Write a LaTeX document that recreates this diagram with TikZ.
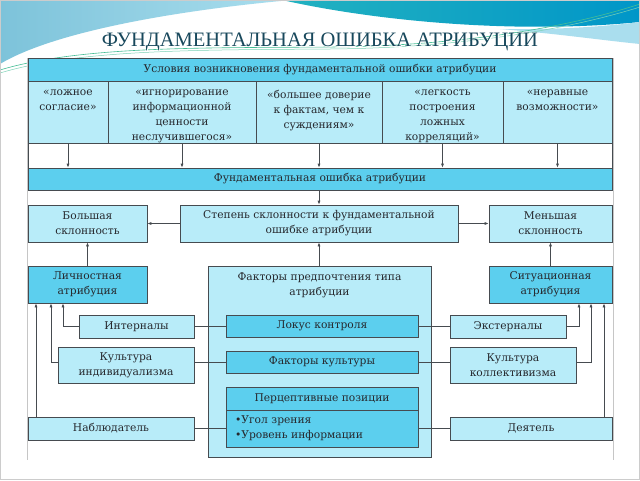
\documentclass[tikz,border=0pt]{standalone}
\usepackage{fontspec}
\setmainfont{DejaVu Serif}
\newfontfamily\titlefont{Liberation Serif}
\usetikzlibrary{arrows.meta}
\definecolor{lightc}{RGB}{184,236,249}
\definecolor{darkc}{RGB}{92,207,238}
\definecolor{linec}{RGB}{70,75,80}
\definecolor{textc}{RGB}{38,40,45}
\definecolor{titlec}{RGB}{24,72,92}
\definecolor{skyA}{RGB}{125,195,218}
\definecolor{skyB}{RGB}{170,222,238}
\definecolor{tealA}{RGB}{35,178,192}
\definecolor{tealB}{RGB}{0,150,200}
\definecolor{greenl}{RGB}{70,190,150}
\tikzset{
  bodyfont/.style={font=\fontsize{10.7}{15}\selectfont},
  lbox/.style={draw=linec, fill=lightc, line width=0.7pt, inner sep=0pt, align=center, bodyfont, text=textc},
  dbox/.style={lbox, fill=darkc},
  txt/.style={inner sep=0pt, align=center, bodyfont, text=textc},
  conn/.style={draw=linec, line width=0.7pt},
  arr/.style={conn, -{Latex[length=4pt,width=3pt]}},
}
\begin{document}
\begin{tikzpicture}[x=1pt,y=-1pt]
\useasboundingbox (0,0) rectangle (640,480);
\fill[white] (0,0) rectangle (640,480);
% background swooshes
\shade[left color=skyA, right color=skyB] (0,0) -- (292,0) .. controls (200,8) and (60,28) .. (0,64) -- cycle;
\shade[left color=tealA, right color=tealB] (282,0) -- (640,0) -- (640,22) .. controls (520,34) and (380,22) .. (282,0) -- cycle;
\fill[skyB] (500,29) .. controls (560,30) and (610,26) .. (640,22) -- (640,44) .. controls (600,40) and (560,34) .. (500,29) -- cycle;
\draw[greenl, line width=0.6pt] (0,70) .. controls (80,46) and (200,48) .. (330,47) .. controls (450,46) and (560,30) .. (640,4);
\draw[greenl!70, line width=0.5pt] (0,73) .. controls (80,49) and (200,50) .. (330,49) .. controls (450,48) and (560,32) .. (640,7);
\draw[gray!40] (0.5,0.5) rectangle (639.5,479.5);
% title
\node[font=\titlefont\fontsize{20.5}{22}\selectfont, text=white, anchor=base] at (321,47) {ФУНДАМЕНТАЛЬНАЯ ОШИБКА АТРИБУЦИИ};
\node[font=\titlefont\fontsize{20.5}{22}\selectfont, text=titlec, anchor=base] (title) at (320,46) {ФУНДАМЕНТАЛЬНАЯ ОШИБКА АТРИБУЦИИ};
% faint frame lines
\draw[gray!45, line width=0.8pt] (27,58) -- (27,460);
\draw[gray!45, line width=0.8pt] (613,58) -- (613,460);
% top block
\node[draw=linec, line width=0.7pt, fill=white, minimum width=584pt, minimum height=110pt, inner sep=0pt] (frame) at (320,113) {};
\node[dbox, minimum width=584pt, minimum height=23pt] (cond) at (320,69.5) {Условия возникновения фундаментальной ошибки атрибуции};
\node[lbox, minimum width=80pt, minimum height=62pt] (c1) at (68,112) {};
\node[lbox, minimum width=148pt, minimum height=62pt] (c2) at (182,112) {};
\node[lbox, minimum width=126pt, minimum height=62pt] (c3) at (319,112) {};
\node[lbox, minimum width=121pt, minimum height=62pt] (c4) at (442.5,112) {};
\node[lbox, minimum width=109pt, minimum height=62pt] (c5) at (557.5,112) {};
\node[txt, anchor=north] (t1) at ([yshift=-9pt]c1.north) {«ложное\\согласие»};
\node[txt, anchor=north] (t2) at ([yshift=-9pt]c2.north) {«игнорирование\\информационной\\ценности\\неслучившегося»};
\node[txt, anchor=north] (t3) at ([yshift=-9pt]c3.north) {«большее доверие\\к фактам, чем к\\суждениям»};
\node[txt, anchor=north] (t4) at ([yshift=-9pt]c4.north) {«легкость\\построения\\ложных\\корреляций»};
\node[txt, anchor=north] (t5) at ([yshift=-9pt]c5.north) {«неравные\\возможности»};
\node[dbox, minimum width=584pt, minimum height=22pt] (fund) at (320,179) {Фундаментальная ошибка атрибуции};
\foreach \c in {c1,c2,c3,c4,c5} \draw[arr] (\c.south) -- (\c.south |- fund.north);
% row 3
\node[lbox, minimum width=119pt, minimum height=37pt] (big) at (87.5,223.5) {Большая\\склонность};
\node[lbox, minimum width=278pt, minimum height=37pt] (step) at (319,223.5) {Степень склонности к фундаментальной\\ошибке атрибуции};
\node[lbox, minimum width=123pt, minimum height=37pt] (small) at (550.5,223.5) {Меньшая\\склонность};
\draw[arr] (fund.south -| step.north) -- (step.north);
\draw[arr] (step.west) -- (big.east);
\draw[arr] (step.east) -- (small.west);
% row 4
\node[dbox, minimum width=119pt, minimum height=37pt] (lich) at (87.5,284.5) {Личностная\\атрибуция};
\node[dbox, minimum width=123pt, minimum height=37pt] (sit) at (550.5,284.5) {Ситуационная\\атрибуция};
\draw[arr] (lich.north) -- (big.south);
\draw[arr] (sit.north) -- (small.south);
\node[lbox, minimum width=223pt, minimum height=191pt] (fac) at (319.5,361.5) {};
\node[txt, anchor=north] (fact) at ([yshift=-7pt]fac.north) {Факторы предпочтения типа\\атрибуции};
\draw[arr] (fac.north -| step.south) -- (step.south);
\node[dbox, minimum width=192pt, minimum height=22pt] (locus) at (322,326) {Локус контроля};
\node[dbox, minimum width=192pt, minimum height=22pt] (cult) at (322,362) {Факторы культуры};
\node[dbox, minimum width=192pt, minimum height=23pt] (perc) at (322,398.5) {Перцептивные позиции};
\node[dbox, minimum width=192pt, minimum height=37pt, text width=174pt, align=left] (pl) at (322,428.5) {•Угол зрения\\•Уровень информации};
% left column
\node[lbox, minimum width=115pt, minimum height=23pt] (intern) at (136.5,326.5) {Интерналы};
\node[lbox, minimum width=136pt, minimum height=36pt] (indiv) at (126,365) {Культура\\индивидуализма};
\node[lbox, minimum width=166pt, minimum height=23pt] (obs) at (111,428.5) {Наблюдатель};
% right column
\node[lbox, minimum width=116pt, minimum height=23pt] (extern) at (508,326.5) {Экстерналы};
\node[lbox, minimum width=126pt, minimum height=36pt] (coll) at (513,365) {Культура\\коллективизма};
\node[lbox, minimum width=162pt, minimum height=23pt] (actor) at (531,428.5) {Деятель};
% links to centre
\draw[conn] (intern.east |- locus.west) -- (locus.west);
\draw[conn] (indiv.east |- cult.west) -- (cult.west);
\draw[conn] (obs.east) -- (pl.west);
\draw[conn] (locus.east) -- (extern.west |- locus.east);
\draw[conn] (cult.east) -- (coll.west |- cult.east);
\draw[conn] (pl.east) -- (actor.west);
% arrows to attributions
\draw[arr] (intern.west |- locus.west) -| ([xshift=-24.5pt]lich.south);
\draw[arr] (indiv.west |- cult.west) -| ([xshift=-36.5pt]lich.south);
\draw[arr] ([xshift=-75pt]obs.north) -- ([xshift=-51.5pt]lich.south);
\draw[arr] (extern.east |- locus.east) -| ([xshift=28.5pt]sit.south);
\draw[arr] (coll.east |- cult.east) -| ([xshift=40.5pt]sit.south);
\draw[arr] ([xshift=73pt]actor.north) -- ([xshift=53.5pt]sit.south);
\end{tikzpicture}
\end{document}
